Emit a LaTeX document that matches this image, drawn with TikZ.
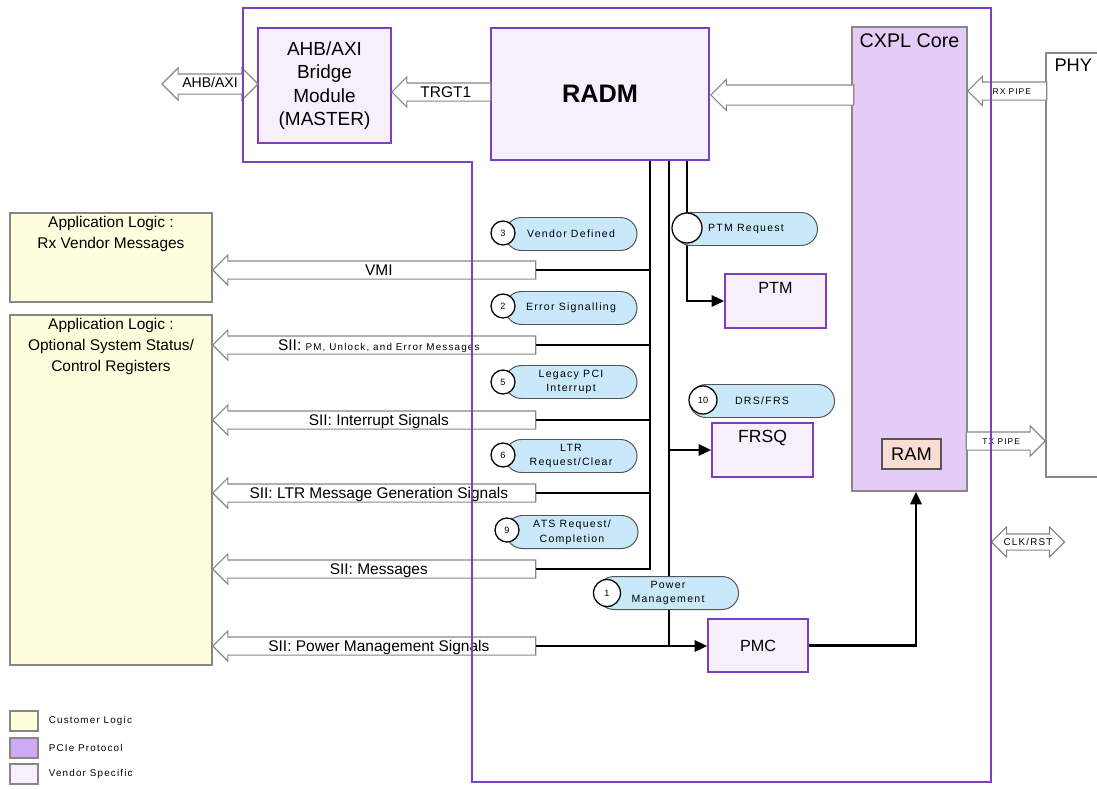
\documentclass[tikz,border=0pt]{standalone}
\usepackage{fontspec}
\setmainfont{Liberation Sans}
\newfontfamily\spacedfont[LetterSpace=12]{Liberation Sans}
\usetikzlibrary{arrows.meta,fit,positioning,shapes.arrows,shapes.misc}
\newcommand{\pxu}{0.025cm}
\definecolor{outerline}{HTML}{7F3FBF}
\definecolor{vendorline}{HTML}{7B3FC0}
\definecolor{vendorfill}{HTML}{F7F0FC}
\definecolor{protofill}{HTML}{E5CCF7}
\definecolor{protoswatch}{HTML}{CDA8F3}
\definecolor{custfill}{HTML}{FFFEDC}
\definecolor{pillfill}{HTML}{C9E8FA}
\definecolor{pillline}{HTML}{555555}
\definecolor{ramfill}{HTML}{FADDD2}
\definecolor{grayline}{HTML}{878787}
\tikzset{
  outline/.style={draw=outerline, line width=1.5pt},
  vendorbox/.style={draw=vendorline, line width=1.1pt, fill=vendorfill, inner sep=0pt},
  protobox/.style={draw=grayline, line width=1.1pt, fill=protofill, inner sep=0pt},
  custbox/.style={draw=grayline, line width=1.1pt, fill=custfill, inner sep=0pt},
  sigarrow/.style={single arrow, draw=grayline, line width=0.8pt, fill=white,
    shape border rotate=180, single arrow head extend=6*\pxu,
    inner xsep=0pt, inner ysep=0pt, text height=13.5*\pxu, text depth=3.5*\pxu,
    font=\fontsize{11}{12}\selectfont},
  biarrow/.style={double arrow, draw=grayline, line width=0.8pt, fill=white,
    inner xsep=0pt, inner ysep=0pt},
  pill/.style={rounded rectangle, draw=pillline, line width=0.7pt, fill=pillfill,
    minimum height=33*\pxu, inner sep=0pt, align=center,
    font=\spacedfont\fontsize{7.5}{10.5}\selectfont},
  numdot/.style={circle, draw=black, line width=0.9pt, fill=white,
    minimum size=24*\pxu, inner sep=0pt, font=\fontsize{6.5}{7}\selectfont},
  bus/.style={line width=1.8pt, draw=black},
  busarrow/.style={bus, -{Triangle[length=9pt,width=8pt]}},
  swatch/.style={draw=grayline, line width=0.8pt, minimum width=0.7cm,
    minimum height=0.5cm, inner sep=0pt},
  legendtext/.style={font=\spacedfont\fontsize{7}{8}\selectfont, inner sep=0pt},
  boxtext/.style={font=\fontsize{13.5}{16.5}\selectfont, align=center, inner sep=0pt},
  applabel/.style={font=\fontsize{11}{15}\selectfont, align=center, inner sep=2pt},
}
\begin{document}
\begin{tikzpicture}[x=\pxu, y=-\pxu]
  \useasboundingbox (0,0) rectangle (1097,789);
  \clip (0,0) rectangle (1097,789);

  % blocks
  \node[vendorbox, fit={(258,28) (391,143)},
    label={[boxtext]center:{AHB/AXI\\Bridge\\Module\\(MASTER)}}] (bridge) {};
  \node[vendorbox, fit={(491,28) (709,160)},
    label={[inner sep=0pt, font=\bfseries\fontsize{18}{20}\selectfont]center:RADM}] (radm) {};
  \node[protobox, fit={(852,27) (967,491)},
    label={[anchor=north, yshift=-3*\pxu, font=\fontsize{14}{16}\selectfont]north:CXPL Core}] (cxpl) {};
  \node[draw=grayline, line width=1.1pt, fill=white, inner sep=0pt, fit={(1046,53) (1115,477)}] (phy) {};
  \node[anchor=north west, font=\fontsize{13}{15}\selectfont, inner sep=0pt] (phylbl)
    at ([xshift=9*\pxu, yshift=-6*\pxu]phy.north west) {PHY};
  \node[draw=pillline, line width=0.9pt, fill=ramfill, inner sep=0pt, fit={(882,439) (941,469)},
    label={[inner sep=0pt, font=\fontsize{13}{15}\selectfont]center:RAM}] (ram) {};
  \node[vendorbox, fit={(725,274) (826,328)},
    label={[anchor=north, yshift=-4*\pxu, font=\fontsize{11.5}{13}\selectfont]north:PTM}] (ptm) {};
  \node[vendorbox, fit={(712,423) (813,477)},
    label={[anchor=north, yshift=-3*\pxu, font=\fontsize{12.5}{14}\selectfont]north:FRSQ}] (frsq) {};
  \node[vendorbox, fit={(708,619) (808,672)},
    label={[inner sep=0pt, font=\fontsize{11.5}{13}\selectfont]center:PMC}] (pmc) {};
  \node[custbox, fit={(10,213) (212,302)},
    label={[applabel, anchor=north, yshift=-1*\pxu]north:{Application Logic :\\Rx Vendor Messages}}] (rxv) {};
  \node[custbox, fit={(10,315) (212,665)},
    label={[applabel, anchor=north, yshift=-1*\pxu]north:{Application Logic :\\Optional System Status/\\Control Registers}}] (sysreg) {};

  % hollow arrows
  \node[biarrow, minimum height=96*\pxu, text height=13*\pxu, text depth=6*\pxu,
    double arrow head extend=6*\pxu, font=\fontsize{10}{11}\selectfont] (ahb) at (210,84) {AHB/AXI};
  \node[sigarrow, anchor=tip, minimum height=99*\pxu] (trgt) at (391,92) {TRGT1};
  \node[sigarrow, anchor=tip, minimum height=143*\pxu, text height=19*\pxu, text depth=0pt,
    single arrow head extend=5.5*\pxu] (rxbus) at (710,95) {};
  \node[sigarrow, anchor=tip, minimum height=79*\pxu, text height=12*\pxu, text depth=5*\pxu,
    single arrow head extend=5.5*\pxu, font=\spacedfont\fontsize{6}{7}\selectfont] (rxpipe) at (967,91) {RX PIPE};
  \node[sigarrow, anchor=tip, shape border rotate=0, minimum height=79*\pxu, text height=12*\pxu,
    text depth=5*\pxu, single arrow head extend=6*\pxu, font=\spacedfont\fontsize{6}{7}\selectfont] (txpipe) at (1046,441) {TX PIPE};
  \node[biarrow, minimum height=73*\pxu, text height=10.5*\pxu, text depth=4.5*\pxu,
    double arrow head extend=7*\pxu, font=\spacedfont\fontsize{7}{8}\selectfont] (clkrst) at (1028,542) {CLK/RST};

  \node[sigarrow, anchor=tip, minimum height=323*\pxu] (vmi) at (212,270) {VMI};
  \node[sigarrow, anchor=tip, minimum height=323*\pxu] (siipm) at (212,345)
    {SII: {\spacedfont\fontsize{7}{8}\selectfont PM, Unlock, and Error Messages}};
  \node[sigarrow, anchor=tip, minimum height=323*\pxu] (intr) at (212,420) {SII: Interrupt Signals};
  \node[sigarrow, anchor=tip, minimum height=323*\pxu] (ltr) at (212,493) {SII: LTR Message Generation Signals};
  \node[sigarrow, anchor=tip, minimum height=323*\pxu] (msgs) at (212,569) {SII: Messages};
  \node[sigarrow, anchor=tip, minimum height=323*\pxu] (pmsig) at (212,646) {SII: Power Management Signals};

  % bus lines
  \coordinate (colA) at (650,0);
  \coordinate (colB) at (669,0);
  \coordinate (colC) at (687,0);
  \coordinate (colD) at (916,0);
  \draw[bus] (radm.south -| colA) |- (msgs.tail);
  \draw[bus] (vmi.tail) -- (vmi.tail -| colA);
  \draw[bus] (siipm.tail) -- (siipm.tail -| colA);
  \draw[bus] (intr.tail) -- (intr.tail -| colA);
  \draw[bus] (ltr.tail) -- (ltr.tail -| colA);
  \draw[bus] (radm.south -| colB) -- (pmsig.tail -| colB);
  \draw[busarrow] (frsq.west -| colB) -- (frsq.west);
  \draw[busarrow] (pmsig.tail) -- (pmsig.tail -| pmc.west);
  \draw[busarrow] (radm.south -| colC) |- (ptm.west);
  \draw[busarrow] (pmc.east) -| (cxpl.south -| colD);

  % message bubbles
  \node[pill, minimum width=132*\pxu] (vdpill) at (571,234) {Vendor Defined};
  \node[numdot] (vdnum) at (503,233) {3};
  \node[pill, minimum width=132*\pxu] (errpill) at (571,308) {Error Signalling};
  \node[numdot] (errnum) at (503,306) {2};
  \node[pill, minimum width=132*\pxu] (intpill) at (571,382) {Legacy PCI\\Interrupt};
  \node[numdot] (intnum) at (503,382) {5};
  \node[pill, minimum width=132*\pxu] (ltrpill) at (571,456) {LTR\\Request/Clear};
  \node[numdot] (ltrnum) at (503,455) {6};
  \node[pill, minimum width=132*\pxu] (atspill) at (572,532) {ATS Request/\\Completion};
  \node[numdot] (atsnum) at (507,530) {9};
  \node[pill, minimum width=141*\pxu] (pmpill) at (668,593) {Power\\Management};
  \node[numdot, minimum size=27*\pxu] (pmnum) at (607,593) {1};
  \node[pill, minimum width=143*\pxu] (ptmpill) at (746,229) {PTM Request};
  \node[numdot, minimum size=30*\pxu] (ptmnum) at (687,228) {};
  \node[pill, minimum width=145*\pxu] (drspill) at (762,401) {DRS/FRS};
  \node[numdot, minimum size=28*\pxu] (drsnum) at (703,400) {10};

  % controller boundary
  \draw[outline] (243,8) -- (991,8) -- (991,782) -- (472,782) -- (472,162) -- (243,162) -- cycle;

  % legend
  \node[swatch, fill=custfill] (lgcust) at (24,721) {};
  \node[swatch, fill=protoswatch] (lgproto) at (24,748) {};
  \node[swatch, fill=vendorfill] (lgvendor) at (24,774) {};
  \node[legendtext, right=0.25cm of lgcust] (lgcusttxt) {Customer Logic};
  \node[legendtext, right=0.25cm of lgproto] (lgprototxt) {PCIe Protocol};
  \node[legendtext, right=0.25cm of lgvendor] (lgvendortxt) {Vendor Specific};
\end{tikzpicture}
\end{document}
